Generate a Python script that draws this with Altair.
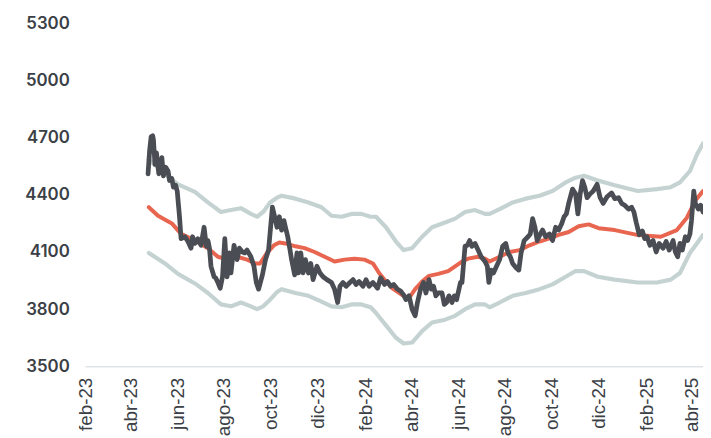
import altair as alt
import pandas as pd

# ---------------- data ----------------
price_dates = [
    "2023-04-24", "2023-04-26", "2023-04-28", "2023-04-30", "2023-05-01", "2023-05-03", "2023-05-05",
    "2023-05-08", "2023-05-12", "2023-05-14", "2023-05-17", "2023-05-20", "2023-05-22", "2023-05-25",
    "2023-05-27", "2023-05-30", "2023-06-01", "2023-06-04", "2023-06-06", "2023-06-11", "2023-06-15",
    "2023-06-19", "2023-06-21", "2023-06-24", "2023-06-28", "2023-07-02", "2023-07-06", "2023-07-09",
    "2023-07-11", "2023-07-13", "2023-07-15", "2023-07-19", "2023-07-21", "2023-07-24", "2023-07-27",
    "2023-07-30", "2023-08-02", "2023-08-05", "2023-08-08", "2023-08-10", "2023-08-14", "2023-08-18",
    "2023-08-21", "2023-08-25", "2023-08-28", "2023-08-31", "2023-09-05", "2023-09-09", "2023-09-12",
    "2023-09-15", "2023-09-20", "2023-09-24", "2023-09-28", "2023-10-03", "2023-10-06", "2023-10-09",
    "2023-10-12", "2023-10-15", "2023-10-18", "2023-10-20", "2023-10-23", "2023-10-26", "2023-10-28",
    "2023-11-01", "2023-11-04", "2023-11-06", "2023-11-09", "2023-11-12", "2023-11-15", "2023-11-19",
    "2023-11-22", "2023-11-25", "2023-11-30", "2023-12-04", "2023-12-08", "2023-12-13", "2023-12-19",
    "2023-12-23", "2023-12-27", "2023-12-30", "2024-01-03", "2024-01-07", "2024-01-12", "2024-01-16",
    "2024-01-20", "2024-01-24", "2024-01-29", "2024-02-02", "2024-02-06", "2024-02-11", "2024-02-17",
    "2024-02-21", "2024-02-26", "2024-03-01", "2024-03-05", "2024-03-09", "2024-03-14", "2024-03-18",
    "2024-03-22", "2024-03-25", "2024-03-29", "2024-04-02", "2024-04-06", "2024-04-09", "2024-04-13",
    "2024-04-17", "2024-04-20", "2024-04-24", "2024-04-27", "2024-04-30", "2024-05-03", "2024-05-06",
    "2024-05-11", "2024-05-14", "2024-05-17", "2024-05-20", "2024-05-24", "2024-05-27", "2024-05-30",
    "2024-06-04", "2024-06-06", "2024-06-10", "2024-06-13", "2024-06-16", "2024-06-19", "2024-06-23",
    "2024-06-27", "2024-07-01", "2024-07-06", "2024-07-09", "2024-07-11", "2024-07-14", "2024-07-17",
    "2024-07-21", "2024-07-25", "2024-07-29", "2024-08-02", "2024-08-05", "2024-08-08", "2024-08-11",
    "2024-08-16", "2024-08-19", "2024-08-22", "2024-08-26", "2024-08-31", "2024-09-03", "2024-09-06",
    "2024-09-09", "2024-09-12", "2024-09-16", "2024-09-19", "2024-09-23", "2024-09-28", "2024-10-02",
    "2024-10-06", "2024-10-10", "2024-10-14", "2024-10-17", "2024-10-20", "2024-10-23", "2024-10-25",
    "2024-10-28", "2024-11-01", "2024-11-04", "2024-11-07", "2024-11-10", "2024-11-13", "2024-11-16",
    "2024-11-20", "2024-11-24", "2024-11-29", "2024-12-03", "2024-12-07", "2024-12-12", "2024-12-18",
    "2024-12-22", "2024-12-27", "2024-12-31", "2025-01-04", "2025-01-09", "2025-01-13", "2025-01-16",
    "2025-01-19", "2025-01-23", "2025-01-27", "2025-01-30", "2025-02-02", "2025-02-06", "2025-02-10",
    "2025-02-14", "2025-02-18", "2025-02-23", "2025-02-27", "2025-03-03", "2025-03-08", "2025-03-11",
    "2025-03-14", "2025-03-17", "2025-03-20", "2025-03-24", "2025-03-27", "2025-03-30", "2025-04-01",
    "2025-04-04", "2025-04-06", "2025-04-10", "2025-04-13", "2025-04-16",
]
price_values = [
    4510, 4630, 4705, 4710, 4690, 4560, 4620,
    4510, 4595, 4500, 4545, 4525, 4475, 4485,
    4440, 4450, 4420, 4285, 4170, 4180, 4155,
    4120, 4180, 4145, 4170, 4135, 4230, 4130,
    4160, 4120, 4025, 3970, 3965, 3940, 3910,
    3970, 4170, 3970, 4095, 3990, 4135, 4060,
    4120, 4100, 4095, 4110, 4075, 4025, 3940,
    3905, 3980, 4060, 4110, 4335, 4285, 4230,
    4285, 4215, 4265, 4230, 4180, 4110, 4060,
    3980, 4095, 3990, 4095, 3990, 4060, 3990,
    4040, 3955, 4025, 3990, 3970, 3955, 3940,
    3905, 3835, 3920, 3940, 3920, 3940, 3955,
    3930, 3945, 3920, 3955, 3920, 3940, 3910,
    3965, 3930, 3945, 3920, 3930, 3905, 3895,
    3875, 3850, 3870, 3800, 3765, 3835, 3905,
    3940, 3885, 3955, 3905, 3920, 3870, 3885,
    3885, 3825, 3835, 3870, 3835, 3870, 3850,
    3940, 3940, 4130, 4135, 4160, 4130, 4145,
    4110, 4075, 4050, 4025, 3940, 4005, 3990,
    4025, 4060, 4130, 4145, 4095, 4075, 4040,
    4015, 4005, 4095, 4160, 4180, 4195, 4275,
    4230, 4160, 4195, 4215, 4180, 4195, 4160,
    4230, 4215, 4250, 4285, 4300, 4355, 4385,
    4430, 4405, 4300, 4405, 4475, 4440, 4385,
    4405, 4420, 4455, 4385, 4355, 4390, 4410,
    4380, 4385, 4355, 4345, 4325, 4335, 4310,
    4255, 4190, 4210, 4170, 4180, 4135, 4160,
    4100, 4145, 4120, 4155, 4110, 4160, 4100,
    4075, 4145, 4110, 4180, 4160, 4195, 4265,
    4420, 4355, 4325, 4345, 4310,
]

ma_dates = [
    "2023-04-25", "2023-05-07", "2023-05-25", "2023-06-06", "2023-06-24", "2023-07-11", "2023-07-24",
    "2023-08-06", "2023-08-18", "2023-08-31", "2023-09-11", "2023-09-17", "2023-09-26", "2023-10-05",
    "2023-10-12", "2023-10-20", "2023-11-02", "2023-11-14", "2023-11-27", "2023-12-10", "2023-12-23",
    "2024-01-05", "2024-01-18", "2024-01-31", "2024-02-11", "2024-02-19", "2024-02-28", "2024-03-07",
    "2024-03-16", "2024-03-25", "2024-03-31", "2024-04-06", "2024-04-15", "2024-04-24", "2024-05-06",
    "2024-05-19", "2024-05-28", "2024-06-06", "2024-06-14", "2024-06-27", "2024-07-06", "2024-07-12",
    "2024-07-25", "2024-08-07", "2024-08-20", "2024-09-02", "2024-09-15", "2024-09-27", "2024-10-10",
    "2024-10-23", "2024-11-05", "2024-11-18", "2024-12-01", "2024-12-22", "2025-01-20", "2025-02-20",
    "2025-03-13", "2025-03-26", "2025-04-06", "2025-04-16",
]
ma_values = [
    4335, 4290, 4250, 4195, 4160, 4120, 4075,
    4060, 4075, 4060, 4040, 4040, 4095, 4135,
    4150, 4145, 4130, 4120, 4100, 4075, 4050,
    4060, 4065, 4060, 4040, 3990, 3945, 3910,
    3885, 3860, 3870, 3905, 3945, 3975, 3985,
    4000, 4025, 4050, 4065, 4075, 4065, 4050,
    4075, 4100, 4110, 4135, 4155, 4170, 4190,
    4205, 4235, 4245, 4225, 4215, 4190, 4180,
    4215, 4280, 4370, 4420,
]

band_dates = [
    "2023-04-25", "2023-05-16", "2023-06-02", "2023-06-24", "2023-07-11", "2023-07-28", "2023-08-10",
    "2023-08-23", "2023-09-05", "2023-09-13", "2023-09-21", "2023-09-30", "2023-10-09", "2023-10-15",
    "2023-11-02", "2023-11-19", "2023-12-06", "2023-12-19", "2024-01-01", "2024-01-14", "2024-01-27",
    "2024-02-08", "2024-02-15", "2024-02-28", "2024-03-12", "2024-03-22", "2024-04-02", "2024-04-15",
    "2024-04-28", "2024-05-15", "2024-05-28", "2024-06-10", "2024-06-23", "2024-07-06", "2024-07-12",
    "2024-07-25", "2024-08-11", "2024-08-28", "2024-09-15", "2024-10-02", "2024-10-19", "2024-11-01",
    "2024-11-12", "2024-11-30", "2024-12-22", "2025-01-21", "2025-02-15", "2025-03-05", "2025-03-17",
    "2025-03-30", "2025-04-08", "2025-04-16",
]
upper_values = [
    4585, 4510, 4455, 4415, 4360, 4310, 4320,
    4330, 4300, 4285, 4310, 4360, 4385, 4395,
    4380, 4360, 4335, 4290, 4285, 4300, 4300,
    4285, 4285, 4230, 4155, 4110, 4120, 4180,
    4230, 4255, 4275, 4310, 4320, 4300, 4300,
    4325, 4360, 4380, 4395, 4420, 4465, 4490,
    4500, 4475, 4450, 4420, 4430, 4440, 4465,
    4525, 4610, 4670,
]
lower_values = [
    4095, 4040, 3985, 3935, 3885, 3825, 3815,
    3835, 3815, 3800, 3815, 3850, 3890, 3905,
    3885, 3870, 3840, 3815, 3810, 3825, 3825,
    3810, 3780, 3715, 3650, 3620, 3625, 3685,
    3730, 3745, 3765, 3800, 3825, 3825, 3810,
    3835, 3870, 3885, 3905, 3930, 3970, 4000,
    4000, 3970, 3955, 3940, 3940, 3955, 3990,
    4095, 4145, 4190,
]

y_ticks = [3500, 3800, 4100, 4400, 4700, 5000, 5300]
x_tick_dates = [
    (2023, 2), (2023, 4), (2023, 6), (2023, 8), (2023, 10), (2023, 12),
    (2024, 2), (2024, 4), (2024, 6), (2024, 8), (2024, 10), (2024, 12),
    (2025, 2), (2025, 4),
]
month_names = ["ene", "feb", "mar", "abr", "may", "jun", "jul", "ago", "sep", "oct", "nov", "dic"]

# ---------------- colours ----------------
C_PRICE = "#4a4e54"
C_MA = "#e8654f"
C_BAND = "#c4d3d2"
C_TEXT = "#3b4046"
C_AXIS = "#dfe3e6"


def frame(dates, values):
    return pd.DataFrame({"fecha": pd.to_datetime(dates), "valor": values})


month_arr = "[" + ",".join("'%s'" % m for m in month_names) + "]"
label_expr = month_arr + "[month(datum.value)] + '-' + timeFormat(datum.value, '%y')"

x_enc = alt.X(
    "fecha:T",
    title=None,
    scale=alt.Scale(domain=[alt.DateTime(year=2023, month=2, date=1),
                            alt.DateTime(year=2025, month=4, date=16)]),
    axis=alt.Axis(
        values=[alt.DateTime(year=y, month=m, date=1) for y, m in x_tick_dates],
        labelExpr=label_expr,
        labelAngle=-90,
        labelPadding=11,
        labelFont="Liberation Sans",
        labelFontSize=19,
        labelColor=C_TEXT,
        ticks=False,
        grid=False,
        domain=True,
        domainColor=C_AXIS,
        domainWidth=1.5,
        labelOverlap=False,
        labelBound=False,
        labelFlush=False,
    ),
)
y_enc = alt.Y(
    "valor:Q",
    title=None,
    scale=alt.Scale(domain=[3500, 5300], nice=False, zero=False),
    axis=alt.Axis(
        values=y_ticks,
        format="d",
        labelPadding=16,
        labelFont="Inter",
        labelFontWeight=600,
        labelFontSize=17,
        labelColor=C_TEXT,
        ticks=False,
        grid=False,
        domain=False,
        labelOverlap=False,
    ),
)


def line(df, color, width):
    return alt.Chart(df).mark_line(
        color=color, strokeWidth=width, strokeCap="round", strokeJoin="round", clip=True
    ).encode(x=x_enc, y=y_enc)


chart = alt.layer(
    line(frame(band_dates, upper_values), C_BAND, 4.2),
    line(frame(band_dates, lower_values), C_BAND, 4.2),
    line(frame(ma_dates, ma_values), C_MA, 4.0),
    line(frame(price_dates, price_values), C_PRICE, 4.8),
).properties(
    width=625,
    height=347,
    autosize=alt.AutoSizeParams(type="none"),
    padding={"left": 78, "top": 13, "right": 0, "bottom": 70},
).configure(
    background="white",
    view=alt.ViewConfig(stroke=None),
)

chart.save("out.html", embed_options={"renderer": "svg", "actions": False})
